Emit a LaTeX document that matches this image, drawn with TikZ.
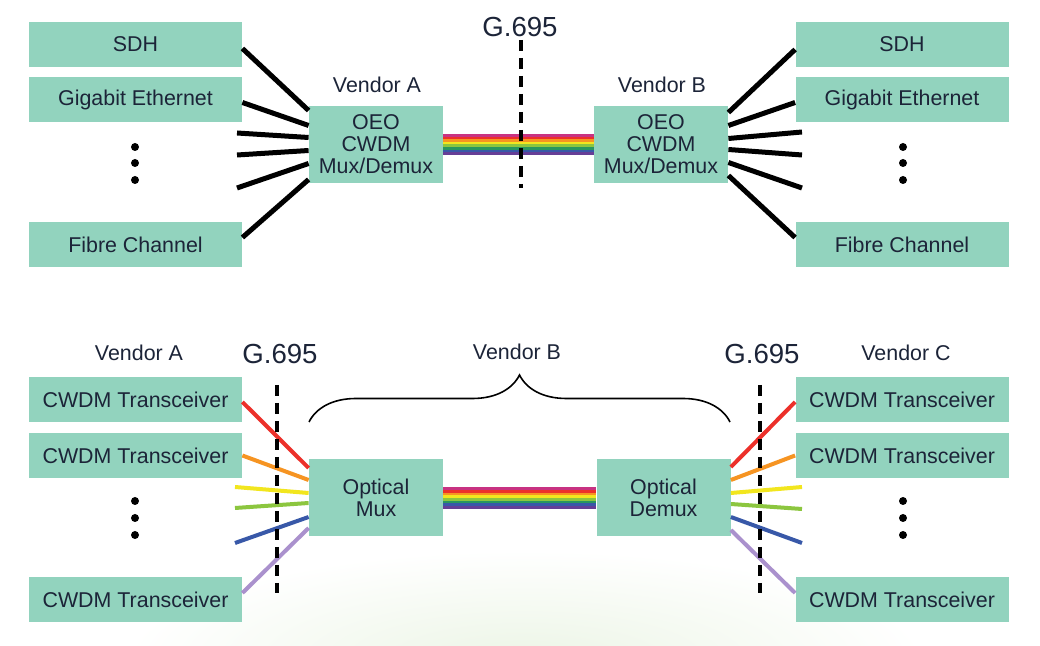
\documentclass[tikz,border=0pt]{standalone}
\usepackage{fontspec}
\setmainfont{Liberation Sans}
\usetikzlibrary{calc,decorations.pathreplacing}
\definecolor{boxgreen}{RGB}{146,211,190}
\definecolor{inkblue}{RGB}{28,36,56}
\definecolor{wmag}{RGB}{200,50,130}
\definecolor{wred}{RGB}{236,48,42}
\definecolor{worange}{RGB}{246,148,34}
\definecolor{wyellow}{RGB}{242,230,30}
\definecolor{wlime}{RGB}{140,198,63}
\definecolor{wgreen}{RGB}{40,150,95}
\definecolor{wblue}{RGB}{56,88,168}
\definecolor{wviolet}{RGB}{102,62,150}
\definecolor{wlilac}{RGB}{170,145,205}
\definecolor{paleleaf}{RGB}{236,245,230}
\begin{document}
\begin{tikzpicture}[x=0.5pt,y=-0.5pt,
  every node/.style={text=inkblue,font=\fontsize{10.7}{11}\selectfont},
  sidebox/.style={fill=boxgreen,minimum width=106.5pt,minimum height=22.5pt,inner sep=0pt},
  muxbox/.style={fill=boxgreen,minimum width=67pt,minimum height=38.5pt,inner sep=0pt,align=center},
  reflabel/.style={font=\fontsize{13.8}{14}\selectfont},
  fibre/.style={line width=2.5pt,black},
  lambda/.style={line width=2pt},
  cut/.style={line width=2pt,black,dash pattern=on 5.5pt off 3.5pt}]
  \useasboundingbox[fill=white] (0,0) rectangle (1040,646);
  \begin{scope}
    \clip (0,0) rectangle (1040,646);
    \shade[inner color=paleleaf,outer color=white] (525,660) ellipse [x radius=200pt,y radius=55pt];
  \end{scope}

  % top: OEO CWDM link
  \node[sidebox] (sdhA) at (135.5,44.5) {SDH};
  \node[sidebox] (gbeA) at (135.5,99.5) {Gigabit Ethernet};
  \node[sidebox] (fcA) at (135.5,244.5) {Fibre Channel};
  \node[sidebox] (sdhB) at (902,44.5) {SDH};
  \node[sidebox] (gbeB) at (902,99.5) {Gigabit Ethernet};
  \node[sidebox] (fcB) at (902,244.5) {Fibre Channel};
  \foreach \y in {147,163,180} {
    \fill (135,\y) circle (2pt);
    \fill (903,\y) circle (2pt);
  }
  \node[muxbox] (oeoA) at (376,144.5) {OEO\\CWDM\\Mux/Demux};
  \node[muxbox] (oeoB) at (661,144.5) {OEO\\CWDM\\Mux/Demux};
  \node (vendA) at (377,84.5) {Vendor A};
  \node (vendB) at (662,85) {Vendor B};

  \draw[fibre] ($(sdhA.east)+(0,4)$) -- ($(oeoA.west)+(0,-34)$);
  \draw[fibre] ($(gbeA.east)+(0,3)$) -- ($(oeoA.west)+(0,-19)$);
  \foreach \y/\d [count=\i] in {133/-7,155/6,188/19} {
    \coordinate (freeA\i) at (237,\y);
    \draw[fibre] (freeA\i) -- ($(oeoA.west)+(0,\d)$);
  }
  \draw[fibre] ($(fcA.east)+(0,-7)$) -- ($(oeoA.west)+(0,35)$);

  \draw[fibre] ($(oeoB.east)+(0,-32)$) -- ($(sdhB.west)+(0,5)$);
  \draw[fibre] ($(oeoB.east)+(0,-19)$) -- ($(gbeB.west)+(0,3)$);
  \foreach \y/\d [count=\i] in {132/-6,155/5,188/18} {
    \coordinate (freeB\i) at (802,\y);
    \draw[fibre] ($(oeoB.east)+(0,\d)$) -- (freeB\i);
  }
  \draw[fibre] ($(oeoB.east)+(0,31)$) -- ($(fcB.west)+(0,-7)$);

  \foreach \c [count=\i, evaluate=\i as \d using -10.5+(\i-0.5)*2.625] in {wmag,wred,worange,wyellow,wlime,wgreen,wblue,wviolet}
    \draw[\c,line width=1.4pt] ($(oeoA.east)+(0,\d)$) -- ($(oeoB.west)+(0,\d)$);

  \node[reflabel] (refTop) at (520,27) {G.695};
  \coordinate (cutTop1) at (521,40);
  \coordinate (cutTop2) at (521,188);
  \draw[cut] (cutTop1) -- (cutTop2);

  % bottom: G.695 black link
  \node[sidebox] (trA1) at (135.5,399.5) {CWDM Transceiver};
  \node[sidebox] (trA2) at (135.5,455.5) {CWDM Transceiver};
  \node[sidebox] (trA3) at (135.5,599.5) {CWDM Transceiver};
  \node[sidebox] (trC1) at (902,399.5) {CWDM Transceiver};
  \node[sidebox] (trC2) at (902,455.5) {CWDM Transceiver};
  \node[sidebox] (trC3) at (902,599.5) {CWDM Transceiver};
  \foreach \y in {501,518,535} {
    \fill (135,\y) circle (2pt);
    \fill (903,\y) circle (2pt);
  }
  \node[muxbox] (muxA) at (376,498) {Optical\\Mux};
  \node[muxbox] (demuxB) at (663.5,498) {Optical\\Demux};
  \node (vendA2) at (139,353) {Vendor A};
  \node (vendB2) at (517,352) {Vendor B};
  \node (vendC2) at (906,353) {Vendor C};

  \draw[lambda,wred] ($(trA1.east)+(0,2.5)$) -- ($(muxA.west)+(0,-30)$);
  \draw[lambda,worange] (trA2.east) -- ($(muxA.west)+(0,-18)$);
  \foreach \c/\y/\d [count=\i] in {wyellow/487/-5,wlime/508/5,wblue/543/19} {
    \coordinate (freeC\i) at (235,\y);
    \draw[lambda,\c] (freeC\i) -- ($(muxA.west)+(0,\d)$);
  }
  \draw[lambda,wlilac] ($(trA3.east)+(0,-6.5)$) -- ($(muxA.west)+(0,30)$);

  \draw[lambda,wred] ($(demuxB.east)+(0,-31)$) -- ($(trC1.west)+(0,2.5)$);
  \draw[lambda,worange] ($(demuxB.east)+(0,-18)$) -- (trC2.west);
  \foreach \c/\y/\d [count=\i] in {wyellow/487/-5,wlime/509/6,wblue/543/19} {
    \coordinate (freeD\i) at (802,\y);
    \draw[lambda,\c] ($(demuxB.east)+(0,\d)$) -- (freeD\i);
  }
  \draw[lambda,wlilac] ($(demuxB.east)+(0,32)$) -- ($(trC3.west)+(0,-6.5)$);

  \foreach \c [count=\i, evaluate=\i as \d using -10.5+(\i-0.5)*2.625] in {wmag,wred,worange,wyellow,wlime,wgreen,wblue,wviolet}
    \draw[\c,line width=1.4pt] ($(muxA.east)+(0,\d)$) -- ($(demuxB.west)+(0,\d)$);

  \node[reflabel] (refLeft) at (280,354) {G.695};
  \node[reflabel] (refRight) at (762,354) {G.695};
  \coordinate (cutL1) at (277,385);
  \coordinate (cutL2) at (277,593);
  \coordinate (cutR1) at (760,385);
  \coordinate (cutR2) at (760,593);
  \draw[cut] (cutL1) -- (cutL2);
  \draw[cut] (cutR1) -- (cutR2);

  % vendor B span
  \coordinate (spanL) at (309,422);
  \coordinate (spanR) at (730,422);
  \draw[decorate,decoration={brace,amplitude=23.5pt},line width=0.8pt] (spanL) -- (spanR);
\end{tikzpicture}
\end{document}
